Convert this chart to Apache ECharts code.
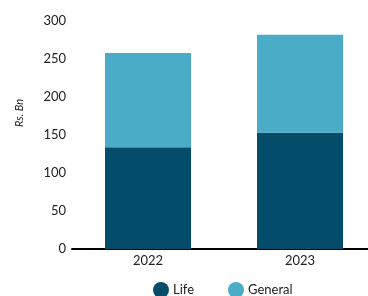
<!DOCTYPE html>
<html>
<head>
<meta charset="utf-8">
<script src="https://cdn.jsdelivr.net/npm/echarts@6/dist/echarts.min.js"></script>
<style>
  html, body { margin: 0; padding: 0; background: #fff; }
  #chart { width: 368px; height: 296px; }
</style>
</head>
<body>
<div id="chart"></div>
<script>
// 数据
const years = ['2022', '2023']
const lifeValues = [134, 153]
const generalValues = [124, 129]
const yTicks = { min: 0, max: 300, interval: 50 }

const chart = echarts.init(document.getElementById('chart'))
const option = {
  animation: false,
  textStyle: { fontFamily: 'Lato' },
  grid: { left: 72, width: 304, top: 21, bottom: 47, outerBoundsMode: 'none' },
  legend: {
    top: 282,
    left: 153,
    padding: 0,
    icon: 'circle',
    itemWidth: 16,
    itemHeight: 16,
    itemGap: 34,
    textStyle: { fontSize: 13, color: '#222', fontFamily: 'Lato', padding: [0, 0, 0, -1] },
    data: ['Life', 'General'],
  },
  graphic: [
    {
      type: 'text',
      x: 19,
      y: 113,
      rotation: Math.PI / 2,
      style: {
        text: 'Rs. Bn',
        font: 'italic 11px Lato',
        fill: '#222',
        textAlign: 'center',
        textVerticalAlign: 'middle',
      },
    },
  ],
  xAxis: {
    type: 'category',
    data: years,
    axisLine: { lineStyle: { color: '#000', width: 2 } },
    axisTick: { show: false },
    axisLabel: { color: '#222', fontSize: 13, margin: 5 },
  },
  yAxis: {
    type: 'value',
    min: yTicks.min,
    max: yTicks.max,
    interval: yTicks.interval,
    splitLine: { show: false },
    axisLine: { show: false },
    axisTick: { show: false },
    axisLabel: { color: '#222', fontSize: 13, margin: 6 },
  },
  series: [
    {
      name: 'Life',
      type: 'bar',
      stack: 'total',
      barWidth: 86,
      data: lifeValues,
      itemStyle: { color: '#034d6a' },
    },
    {
      name: 'General',
      type: 'bar',
      stack: 'total',
      barWidth: 86,
      data: generalValues,
      itemStyle: { color: '#4aacc6' },
    },
  ],
}
chart.setOption(option)
</script>
</body>
</html>
